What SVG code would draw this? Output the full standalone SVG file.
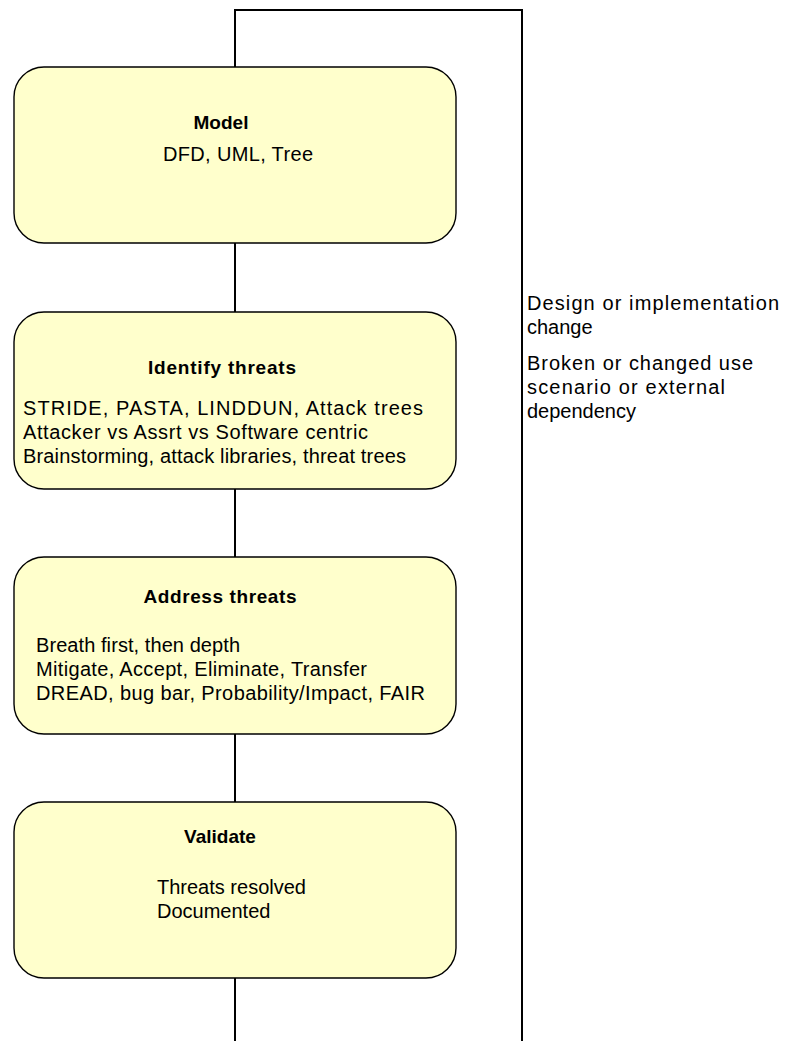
<svg xmlns="http://www.w3.org/2000/svg" width="789" height="1041" viewBox="0 0 789 1041">
  <style>
    .box { fill: #FFFFCC; stroke: #000; stroke-width: 1.4; }
    .wire { fill: none; stroke: #000; stroke-width: 2; }
    text { font-family: "Liberation Sans", Arial, sans-serif; font-size: 20px; fill: #000; }
    .title { font-weight: bold; font-size: 19px; text-anchor: middle; }
  </style>
  <rect width="789" height="1041" fill="#FFFFFF"/>

  <!-- connectors: main spine and feedback loop -->
  <g id="connectors">
    <polyline class="wire" points="235,67 235,10 522,10 522,1041"/>
    <line class="wire" x1="235" y1="243" x2="235" y2="312"/>
    <line class="wire" x1="235" y1="489" x2="235" y2="557"/>
    <line class="wire" x1="235" y1="734" x2="235" y2="802"/>
    <line class="wire" x1="235" y1="978" x2="235" y2="1041"/>
  </g>

  <g id="model">
    <rect class="box" x="14" y="67" width="442" height="176" rx="30" ry="30"/>
    <text class="title" x="221" y="129">Model</text>
    <text x="163" y="161" textLength="150" lengthAdjust="spacing">DFD, UML, Tree</text>
  </g>

  <g id="identify">
    <rect class="box" x="14" y="312" width="442" height="177" rx="30" ry="30"/>
    <text class="title" x="222" y="374" textLength="148" lengthAdjust="spacing">Identify threats</text>
    <text x="23" y="415" textLength="400" lengthAdjust="spacing">STRIDE, PASTA, LINDDUN, Attack trees</text>
    <text x="23" y="439" textLength="345" lengthAdjust="spacing">Attacker vs Assrt vs Software centric</text>
    <text x="23" y="463" textLength="383" lengthAdjust="spacing">Brainstorming, attack libraries, threat trees</text>
  </g>

  <g id="address">
    <rect class="box" x="14" y="557" width="442" height="177" rx="30" ry="30"/>
    <text class="title" x="220" y="603" textLength="153" lengthAdjust="spacing">Address threats</text>
    <text x="36" y="652" textLength="204" lengthAdjust="spacing">Breath first, then depth</text>
    <text x="36" y="676" textLength="331" lengthAdjust="spacing">Mitigate, Accept, Eliminate, Transfer</text>
    <text x="36" y="700" textLength="389" lengthAdjust="spacing">DREAD, bug bar, Probability/Impact, FAIR</text>
  </g>

  <g id="validate">
    <rect class="box" x="14" y="802" width="442" height="176" rx="30" ry="30"/>
    <text class="title" x="220" y="843">Validate</text>
    <text x="157" y="894">Threats resolved</text>
    <text x="157" y="918">Documented</text>
  </g>

  <g id="loop-notes">
    <text x="527" y="310" textLength="252" lengthAdjust="spacing">Design or implementation</text>
    <text x="527" y="334">change</text>
    <text x="527" y="370" textLength="226" lengthAdjust="spacing">Broken or changed use</text>
    <text x="527" y="394" textLength="198" lengthAdjust="spacing">scenario or external</text>
    <text x="527" y="418">dependency</text>
  </g>
</svg>
